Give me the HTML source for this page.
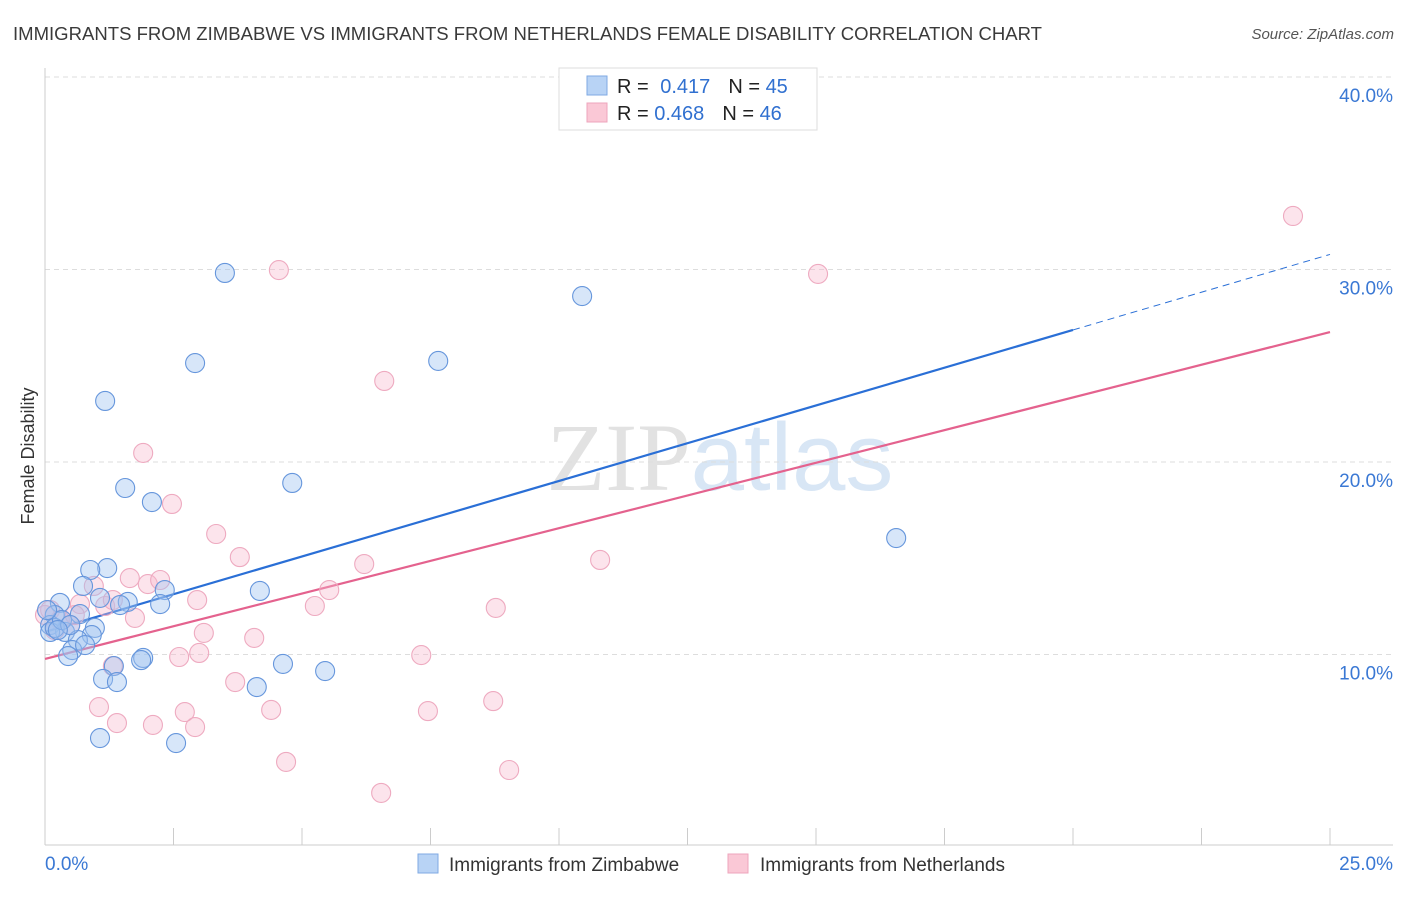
<!DOCTYPE html>
<html><head><meta charset="utf-8"><style>
body{margin:0;background:#fff;width:1406px;height:892px;overflow:hidden;font-family:"Liberation Sans",sans-serif}
</style></head><body>
<svg id="chart" width="1406" height="892" xmlns="http://www.w3.org/2000/svg" font-family="Liberation Sans, sans-serif">
<text x="13" y="40" font-size="18" fill="#3a3a3a" textLength="1029" lengthAdjust="spacingAndGlyphs">IMMIGRANTS FROM ZIMBABWE VS IMMIGRANTS FROM NETHERLANDS FEMALE DISABILITY CORRELATION CHART</text>
<text x="1394" y="39" font-size="15" fill="#555" text-anchor="end" font-style="italic">Source: ZipAtlas.com</text>
<text transform="translate(34,456) rotate(-90)" font-size="18" fill="#333" text-anchor="middle">Female Disability</text>
<g font-size="96" text-anchor="middle"><text x="720" y="490"><tspan fill="#e2e2e2" font-family="Liberation Serif, serif">ZIP</tspan><tspan fill="#d8e6f5">atlas</tspan></text></g>
<g id="grid"></g><g id="axes"></g><g id="lines"></g><g id="pts"></g>
<g>
<rect x="559" y="68" width="258" height="62" fill="#fff" stroke="#ddd"/>
<rect x="587" y="76" width="20" height="19" fill="#b8d3f5" stroke="#7fa9e3"/>
<rect x="587" y="103" width="20" height="19" fill="#fac8d6" stroke="#eea5bc"/>
<text x="617" y="93" font-size="20" fill="#222">R = <tspan fill="#3070d0" dx="6">0.417</tspan><tspan dx="18" fill="#222">N = </tspan><tspan fill="#3070d0">45</tspan></text>
<text x="617" y="120" font-size="20" fill="#222">R = <tspan fill="#3070d0">0.468</tspan><tspan dx="18" fill="#222">N = </tspan><tspan fill="#3070d0">46</tspan></text>
</g>
<g font-size="19" fill="#333">
<rect x="418" y="854" width="20" height="19" fill="#b8d3f5" stroke="#7fa9e3"/>
<text x="449" y="871">Immigrants from Zimbabwe</text>
<rect x="728" y="854" width="20" height="19" fill="#fac8d6" stroke="#eea5bc"/>
<text x="760" y="871">Immigrants from Netherlands</text>
</g>
</svg>
<script>
const xTicks=[0,2.5,5,7.5,10,12.5,15,17.5,20,22.5,25];
const yTicks=[10,20,30,40];
const yTickLabels=["10.0%","20.0%","30.0%","40.0%"];
const xLabels=["0.0%","25.0%"];
const zimX=[3.50,2.92,1.17,10.45,7.65,1.56,2.08,4.81,16.56,1.21,0.88,0.74,2.33,4.18,1.07,1.61,2.24,1.46,0.29,0.19,0.68,0.10,0.39,0.97,0.91,0.64,0.10,0.53,0.45,1.91,1.87,1.34,4.63,5.45,1.13,1.40,4.12,1.07,2.55,0.19,0.33,0.04,0.49,0.78,0.25];
const zimY=[29.82,25.14,23.17,28.62,25.25,18.65,17.92,18.91,16.05,14.49,14.39,13.56,13.35,13.30,12.94,12.73,12.62,12.57,12.68,12.05,12.10,11.53,11.17,11.38,11.01,10.75,11.17,10.23,9.92,9.82,9.71,9.40,9.51,9.14,8.73,8.57,8.31,5.66,5.40,11.38,11.79,12.31,11.53,10.49,11.27];
const netX=[4.55,24.28,15.04,6.60,1.91,2.47,3.33,3.79,6.21,10.80,1.65,2.00,2.24,0.95,0.68,1.17,1.32,2.96,1.75,5.25,5.53,8.77,3.09,4.07,2.61,3.00,7.32,1.32,3.70,1.05,2.72,1.40,2.10,2.92,4.40,7.45,8.72,4.69,9.03,6.54,0.10,0.29,0.49,0.00,0.19,0.58];
const netY=[29.97,32.78,29.77,24.21,20.47,17.82,16.26,15.06,14.70,14.91,13.97,13.66,13.87,13.56,12.62,12.52,12.83,12.83,11.90,12.52,13.35,12.42,11.12,10.86,9.87,10.08,9.97,9.40,8.57,7.27,7.01,6.44,6.34,6.23,7.12,7.06,7.58,4.42,4.00,2.81,12.31,11.79,11.53,12.05,11.27,12.05];
const zimFit=[11.17,26.86];
const zimSolidEnd=20;
const netFit=[9.77,26.75];
const NS="http://www.w3.org/2000/svg";
const sx=v=>45+v*51.4, sy=v=>847-v*19.25;
function mk(t,a,p){const e=document.createElementNS(NS,t);for(const k in a)e.setAttribute(k,a[k]);p.appendChild(e);return e;}
const grid=document.getElementById('grid'),axes=document.getElementById('axes'),lines=document.getElementById('lines'),pts=document.getElementById('pts');
yTicks.forEach((t,i)=>{
 const l=mk('line',{x1:45,x2:1393,y1:sy(t),y2:sy(t),stroke:'#ddd','stroke-dasharray':'5,4'},grid);
 
 
 const tx=mk('text',{x:1393,y:sy(t)+25,'font-size':19,fill:'#3a78d4','text-anchor':'end'},grid);
 tx.textContent=yTickLabels[i];
 
 
});
const ax=mk('line',{x1:45,x2:1393,y1:845,y2:845,stroke:'#ccc'},axes);


const ay=mk('line',{x1:45,x2:45,y1:68,y2:845,stroke:'#ccc'},axes);


xTicks.forEach(t=>{
 const l=mk('line',{x1:sx(t),x2:sx(t),y1:828,y2:845,stroke:'#ccc'},axes);
 
 
});
const xl0=mk('text',{x:45,y:870,'font-size':19,fill:'#3a78d4'},axes);xl0.textContent=xLabels[0];


const xl1=mk('text',{x:1393,y:870,'font-size':19,fill:'#3a78d4','text-anchor':'end'},axes);xl1.textContent=xLabels[1];


function drawPts(X,Y,fill,stroke,name){X.forEach((x,i)=>{
 const c=mk('circle',{cx:sx(x),cy:sy(Y[i]),r:9.5,fill:fill,stroke:stroke,'stroke-width':1.1},pts);
 
 
});}
drawPts(netX,netY,'rgba(248,184,204,0.38)','#eeaac0','point-netherlands');
drawPts(zimX,zimY,'rgba(160,196,240,0.42)','#6696dc','point-zimbabwe');
const zs=(zimFit[1]-zimFit[0])/20, zy=x=>zimFit[0]+zs*x;
const b1=mk('line',{x1:sx(0),y1:sy(zy(0)),x2:sx(zimSolidEnd),y2:sy(zy(zimSolidEnd)),stroke:'#2a6fd6','stroke-width':2.2},lines);


const b2=mk('line',{x1:sx(zimSolidEnd),y1:sy(zy(zimSolidEnd)),x2:sx(25),y2:sy(zy(25)),stroke:'#2a6fd6','stroke-width':1,'stroke-dasharray':'7,5'},lines);


const p1=mk('line',{x1:sx(0),y1:sy(netFit[0]),x2:sx(25),y2:sy(netFit[1]),stroke:'#e4628e','stroke-width':2.2},lines);


</script>
</body></html>
